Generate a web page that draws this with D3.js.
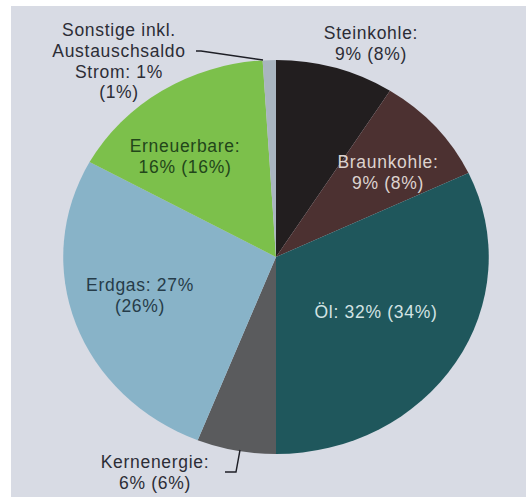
<!DOCTYPE html>
<html>
<head>
<meta charset="utf-8">
<script src="https://cdn.jsdelivr.net/npm/d3@7"></script>
<style>
  html, body { margin: 0; padding: 0; background: #ffffff; }
  svg { display: block; }
  text { font-family: "Liberation Sans", Arial, sans-serif; font-size: 17.5px; letter-spacing: 0.7px; }
</style>
</head>
<body>
<svg id="chart" width="526" height="497"></svg>
<script>
// Primärenergieverbrauch nach Energieträgern (Vorjahr in Klammern)
const categories = ["Steinkohle", "Braunkohle", "Öl", "Kernenergie", "Erdgas", "Erneuerbare", "Sonstige"];
const shares     = [9, 9, 32, 6, 27, 16, 1];
const prevShares = [8, 8, 34, 6, 26, 16, 1];
const colors     = ["#221e1f", "#4c3131", "#1f575c", "#5a5b5d", "#88b3c8", "#7cc04b", "#a9b5c0"];

// Label text, one entry per line
const labelLines = [
  ["Steinkohle:", `${shares[0]}% (${prevShares[0]}%)`],
  ["Braunkohle:", `${shares[1]}% (${prevShares[1]}%)`],
  [`Öl: ${shares[2]}% (${prevShares[2]}%)`],
  ["Kernenergie:", `${shares[3]}% (${prevShares[3]}%)`],
  [`Erdgas: ${shares[4]}%`, `(${prevShares[4]}%)`],
  ["Erneuerbare:", `${shares[5]}% (${prevShares[5]}%)`],
  ["Sonstige inkl.", "Austauschsaldo", `Strom: ${shares[6]}%`, `(${prevShares[6]}%)`]
];

// Label layout: centre x, first line y, text colour
const labelLayout = {
  "Steinkohle":  { x: 371, y: 33,  fill: "#2c2d36" },
  "Braunkohle":  { x: 388, y: 162, fill: "#ddd3cf" },
  "Öl":          { x: 376, y: 312, fill: "#d3e3e3" },
  "Kernenergie": { x: 155, y: 462, fill: "#2c2d36" },
  "Erdgas":      { x: 140, y: 285, fill: "#263c49" },
  "Erneuerbare": { x: 185, y: 146, fill: "#22461a" },
  "Sonstige":    { x: 119, y: 30,  fill: "#2c2d36" }
};
const lineHeight = 20.7;

const svg = d3.select("#chart");

// Panel background
svg.append("rect")
  .attr("x", 11).attr("y", 6)
  .attr("width", 526 - 11).attr("height", 497 - 6)
  .attr("fill", "#d8dbe4");

const cx = 276, cy = 257, radius = 197, stretchX = 1.08;

const pie = d3.pie().sort(null).value(d => d.value).startAngle(0).endAngle(2 * Math.PI);
const arc = d3.arc().innerRadius(0).outerRadius(radius);

const data = categories.map((c, i) => ({ name: c, value: shares[i], color: colors[i] }));

const pieG = svg.append("g")
  .attr("transform", `translate(${cx},${cy}) scale(${stretchX},1)`);

pieG.selectAll("path")
  .data(pie(data))
  .join("path")
  .attr("d", arc)
  .attr("fill", d => d.data.color);

// Leader lines for the small slices
const leaders = [
  [[196, 51], [201, 51], [263, 60]],
  [[240, 450], [236, 472], [225, 472]]
];
svg.selectAll("path.leader")
  .data(leaders)
  .join("path")
  .attr("class", "leader")
  .attr("d", d3.line())
  .attr("fill", "none")
  .attr("stroke", "#1e1f26")
  .attr("stroke-width", 1.4);

// Slice labels, one text element per line
categories.forEach((c, i) => {
  const L = labelLayout[c];
  labelLines[i].forEach((line, k) => {
    svg.append("text")
      .attr("text-anchor", "middle")
      .attr("fill", L.fill)
      .attr("x", L.x)
      .attr("y", L.y + k * lineHeight)
      .attr("dy", "0.35em")
      .text(line);
  });
});
</script>
</body>
</html>
